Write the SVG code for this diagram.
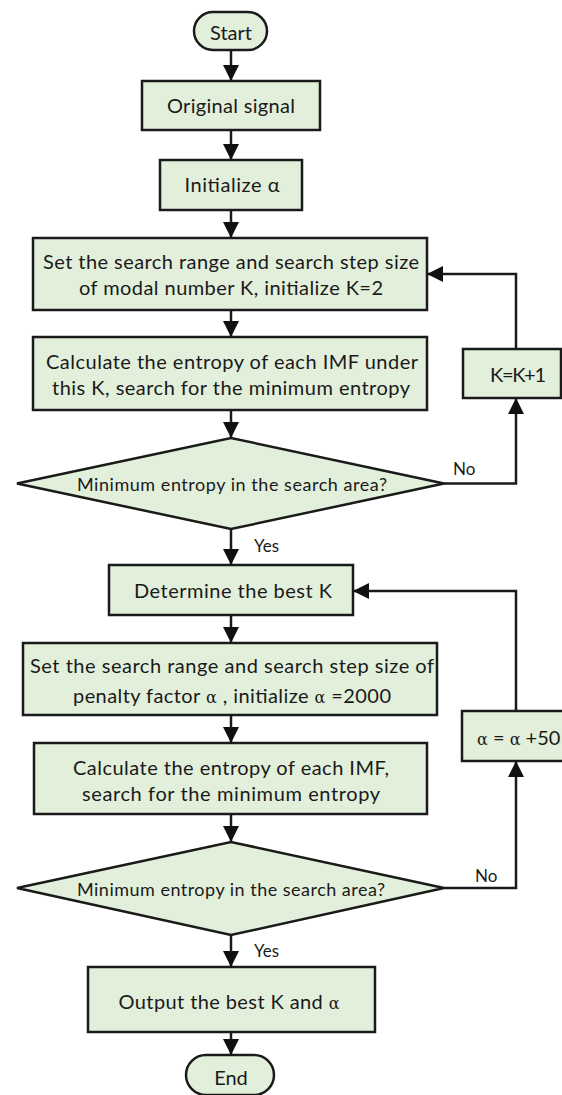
<svg xmlns="http://www.w3.org/2000/svg" width="562" height="1095" viewBox="0 0 562 1095">
<style>
.n{fill:#e2efda;stroke:#1a1a1a;stroke-width:2.5}
.t{font-family:Lato,"Open Sans","Liberation Sans",sans-serif;font-size:20px;fill:#1a1a1a;text-anchor:middle}
.s{font-size:18px}
.l{font-family:Lato,"Open Sans","Liberation Sans",sans-serif;font-size:17px;fill:#1a1a1a}
.a{font-family:"DejaVu Serif","Liberation Serif",serif;font-size:16px}
.c{fill:none;stroke:#1a1a1a;stroke-width:2.5}
</style>
<defs>
<marker id="ah" markerUnits="userSpaceOnUse" markerWidth="16" markerHeight="16" refX="15" refY="8" orient="auto">
<path d="M0,0 L16,8 L0,16 z" fill="#111"/>
</marker>
</defs>
<g id="connectors">
<path class="c" d="M231,50 V80" marker-end="url(#ah)"/>
<path class="c" d="M231,130 V159" marker-end="url(#ah)"/>
<path class="c" d="M231,210 V237" marker-end="url(#ah)"/>
<path class="c" d="M231,310 V336" marker-end="url(#ah)"/>
<path class="c" d="M231,410 V437" marker-end="url(#ah)"/>
<path class="c" d="M231,529 V564" marker-end="url(#ah)"/>
<path class="c" d="M231,615 V642" marker-end="url(#ah)"/>
<path class="c" d="M231,715 V742" marker-end="url(#ah)"/>
<path class="c" d="M231,814 V841" marker-end="url(#ah)"/>
<path class="c" d="M231,935 V966" marker-end="url(#ah)"/>
<path class="c" d="M231,1032 V1054" marker-end="url(#ah)"/>
<path class="c" d="M444,483.5 H516 V399" marker-end="url(#ah)"/>
<path class="c" d="M516,349 V274 H428" marker-end="url(#ah)"/>
<path class="c" d="M444,888 H516 V762" marker-end="url(#ah)"/>
<path class="c" d="M516,711 V591 H354" marker-end="url(#ah)"/>
<text class="l" x="453" y="475">No</text>
<text class="l" x="254" y="552">Yes</text>
<text class="l" x="475" y="882">No</text>
<text class="l" x="254" y="957">Yes</text>
</g>
<g id="start">
<rect class="n" x="194" y="12" width="73" height="38" rx="19"/>
<text class="t" x="231" y="40">Start</text>
</g>
<g id="original">
<rect class="n" x="142" y="81" width="178" height="49"/>
<text class="t" x="231" y="113" textLength="128">Original signal</text>
</g>
<g id="init">
<rect class="n" x="160" y="160" width="142" height="50"/>
<text class="t" x="232" y="192" textLength="95">Initialize α</text>
</g>
<g id="setK">
<rect class="n" x="33" y="238" width="394" height="72"/>
<text class="t" x="231" y="269" textLength="376">Set the search range and search step size</text>
<text class="t" x="231" y="295" textLength="304">of modal number K, initialize K=2</text>
</g>
<g id="calcK">
<rect class="n" x="33" y="337" width="394" height="73"/>
<text class="t" x="232" y="369" textLength="372">Calculate the entropy of each IMF under</text>
<text class="t" x="231" y="395" textLength="358">this K, search for the minimum entropy</text>
</g>
<g id="kinc">
<rect class="n" x="463" y="349" width="98" height="49"/>
<text class="t" x="518" y="382" textLength="56">K=K+1</text>
</g>
<g id="decision1">
<polygon class="n" points="17,483.5 231,438 444,483.5 231,529"/>
<text class="t s" x="232" y="491" textLength="310">Minimum entropy in the search area?</text>
</g>
<g id="bestK">
<rect class="n" x="109" y="565" width="244" height="50"/>
<text class="t" x="233" y="598" textLength="198">Determine the best K</text>
</g>
<g id="setA">
<rect class="n" x="23" y="643" width="414" height="72"/>
<text class="t" x="232" y="673" textLength="404">Set the search range and search step size of</text>
<text class="t" x="232" y="703" textLength="318">penalty factor <tspan class="a">α</tspan> , initialize <tspan class="a">α</tspan> =2000</text>
</g>
<g id="calcA">
<rect class="n" x="34" y="743" width="393" height="71"/>
<text class="t" x="231" y="775" textLength="316">Calculate the entropy of each IMF,</text>
<text class="t" x="231" y="801" textLength="298">search for the minimum entropy</text>
</g>
<g id="ainc">
<rect class="n" x="462" y="711" width="120" height="50"/>
<text class="t" x="477" y="745" style="text-anchor:start"><tspan class="a">α</tspan> = <tspan class="a">α</tspan> +50</text>
</g>
<g id="decision2">
<polygon class="n" points="17,888 231,842 444,888 231,935"/>
<text class="t s" x="231" y="896" textLength="308">Minimum entropy in the search area?</text>
</g>
<g id="output">
<rect class="n" x="88" y="967" width="287" height="65"/>
<text class="t" x="229" y="1009" textLength="221">Output the best K and <tspan class="a">α</tspan></text>
</g>
<g id="end">
<rect class="n" x="186" y="1055" width="88" height="40" rx="20"/>
<text class="t" x="231" y="1085">End</text>
</g>
</svg>
